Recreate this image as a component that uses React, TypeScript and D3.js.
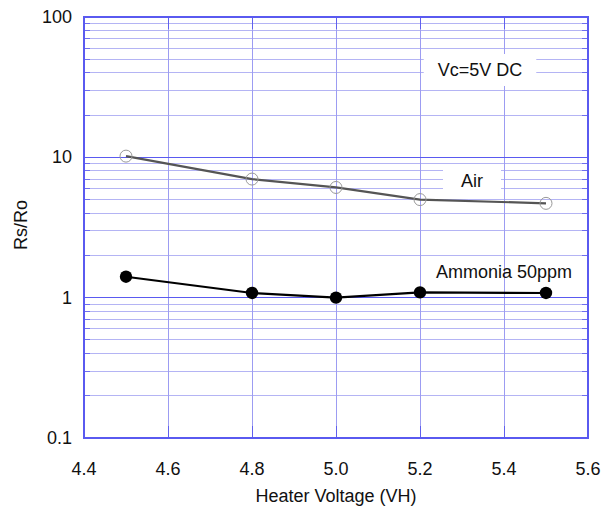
import { useEffect, useRef } from 'react';
import * as d3 from 'd3';

// Datos
const voltajes = [4.5, 4.8, 5.0, 5.2, 5.5];
const aire = [10.2, 7.0, 6.1, 5.0, 4.7];
const amoniaco = [1.41, 1.08, 1.0, 1.09, 1.08];
const xTicks = [4.4, 4.6, 4.8, 5.0, 5.2, 5.4, 5.6];
const yTicks = [0.1, 1, 10, 100];

const W = 613;
const H = 510;
const margin = { top: 17, right: 25, bottom: 72, left: 84 };
const FONT = 'Liberation Sans, Arial, sans-serif';

export default function App() {
  const ref = useRef<SVGSVGElement>(null);

  useEffect(() => {
    const svg = d3.select(ref.current);
    svg.selectAll('*').remove();

    const x = d3.scaleLinear().domain([4.4, 5.6]).range([margin.left, W - margin.right]);
    const y = d3.scaleLog().domain([0.1, 100]).range([H - margin.bottom, margin.top]);
    const x0 = margin.left, x1 = W - margin.right;
    const y0 = H - margin.bottom, y1 = margin.top;

    // Rejilla menor (2..9 por década)
    const menores: number[] = [];
    [0.1, 1, 10].forEach(d => { for (let k = 2; k <= 9; k++) menores.push(d * k); });
    const g = svg.append('g').attr('shape-rendering', 'crispEdges');
    g.selectAll('line.menor').data(menores).join('line')
      .attr('x1', x0).attr('x2', x1)
      .attr('y1', d => y(d)).attr('y2', d => y(d))
      .attr('stroke', '#b4b4f4').attr('stroke-width', 1);
    // marcas cortas en los bordes
    g.selectAll('line.mi').data(menores).join('line')
      .attr('x1', x0).attr('x2', x0 + 6)
      .attr('y1', d => y(d)).attr('y2', d => y(d))
      .attr('stroke', '#6e6eee');
    g.selectAll('line.md').data(menores).join('line')
      .attr('x1', x1 - 6).attr('x2', x1)
      .attr('y1', d => y(d)).attr('y2', d => y(d))
      .attr('stroke', '#6e6eee');

    // Rejilla vertical
    g.selectAll('line.v').data(xTicks.slice(1, -1)).join('line')
      .attr('x1', d => x(d)).attr('x2', d => x(d))
      .attr('y1', y1).attr('y2', y0)
      .attr('stroke', '#9c9cf2');
    g.selectAll('line.vt').data(xTicks.slice(1, -1)).join('line')
      .attr('x1', d => x(d)).attr('x2', d => x(d))
      .attr('y1', y0 - 12).attr('y2', y0)
      .attr('stroke', '#6060ee');
    g.selectAll('line.vtt').data(xTicks.slice(1, -1)).join('line')
      .attr('x1', d => x(d)).attr('x2', d => x(d))
      .attr('y1', y1).attr('y2', y1 + 12)
      .attr('stroke', '#6060ee');

    // Décadas
    g.selectAll('line.dec').data(yTicks).join('line')
      .attr('x1', x0).attr('x2', x1)
      .attr('y1', d => y(d)).attr('y2', d => y(d))
      .attr('stroke', '#5a5af0').attr('stroke-width', 1);

    // Marco
    g.append('rect')
      .attr('x', x0).attr('y', y1)
      .attr('width', x1 - x0).attr('height', y0 - y1)
      .attr('fill', 'none').attr('stroke', '#5a5af0').attr('stroke-width', 1.5);

    // Etiquetas de ejes
    svg.append('g').selectAll('text').data(yTicks).join('text')
      .attr('x', x0 - 12).attr('y', d => y(d) + 6)
      .attr('text-anchor', 'end')
      .attr('font-family', FONT).attr('font-size', 18).attr('fill', '#111')
      .text(d => d3.format('~g')(d));
    svg.append('g').selectAll('text').data(xTicks).join('text')
      .attr('x', d => x(d)).attr('y', y0 + 37)
      .attr('text-anchor', 'middle')
      .attr('font-family', FONT).attr('font-size', 18).attr('fill', '#111')
      .text(d => d.toFixed(1));
    svg.append('text')
      .attr('x', (x0 + x1) / 2).attr('y', y0 + 64)
      .attr('text-anchor', 'middle')
      .attr('font-family', FONT).attr('font-size', 18).attr('fill', '#111')
      .text('Heater Voltage (VH)');
    svg.append('text')
      .attr('transform', `translate(27,225) rotate(-90)`)
      .attr('text-anchor', 'middle')
      .attr('font-family', FONT).attr('font-size', 18).attr('fill', '#111')
      .text('Rs/Ro');

    // Anotaciones con fondo blanco
    const nota = (tx: number, ty: number, txt: string, padX: number, padY: number) => {
      const t = svg.append('text')
        .attr('x', tx).attr('y', ty)
        .attr('text-anchor', 'middle')
        .attr('font-family', FONT).attr('font-size', 18).attr('fill', '#111')
        .text(txt);
      if (padX > 0) {
        const b = (t.node() as SVGTextElement).getBBox();
        svg.insert('rect', () => t.node())
          .attr('x', b.x - padX).attr('y', b.y - padY)
          .attr('width', b.width + 2 * padX).attr('height', b.height + 2 * padY)
          .attr('fill', '#fff');
      }
    };
    nota(480, 76, 'Vc=5V DC', 14, 6);
    nota(472, 187, 'Air', 18, 3);
    nota(504, 278, 'Ammonia 50ppm', 0, 0);

    const linea = d3.line<number>().x((_, i) => x(voltajes[i])).y(d => y(d));

    // Serie aire
    svg.append('path').datum(aire)
      .attr('d', linea).attr('fill', 'none')
      .attr('stroke', '#555').attr('stroke-width', 2.2);
    svg.append('g').selectAll('circle').data(aire).join('circle')
      .attr('cx', (_, i) => x(voltajes[i])).attr('cy', d => y(d)).attr('r', 6)
      .attr('fill', 'none').attr('stroke', '#999').attr('stroke-width', 1);

    // Serie amoníaco
    svg.append('path').datum(amoniaco)
      .attr('d', linea).attr('fill', 'none')
      .attr('stroke', '#000').attr('stroke-width', 2.2);
    svg.append('g').selectAll('circle').data(amoniaco).join('circle')
      .attr('cx', (_, i) => x(voltajes[i])).attr('cy', d => y(d)).attr('r', 6.2)
      .attr('fill', '#000');
  }, []);

  return (
    <div style={{ position: 'absolute', left: 0, top: 0 }}>
      <svg ref={ref} width={W} height={H} style={{ display: 'block', background: '#fff' }} />
    </div>
  );
}
